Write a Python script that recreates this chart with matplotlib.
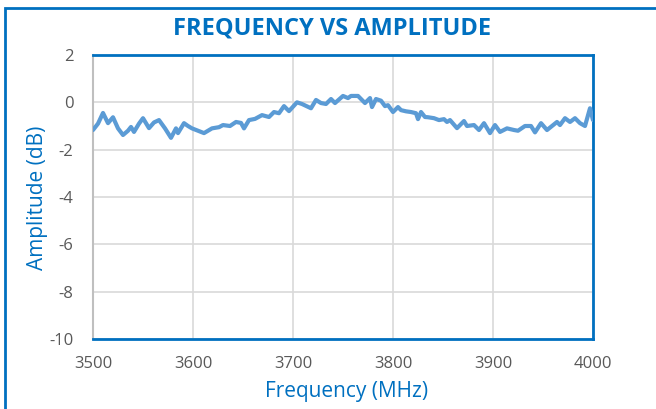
import matplotlib.pyplot as plt
from matplotlib.patches import Rectangle

plt.rcParams['axes.unicode_minus'] = False

# values (MHz, dB)
freq = [3500, 3505, 3510, 3515, 3520, 3525, 3530, 3535, 3538, 3541, 3546, 3550,
        3556, 3561, 3566, 3572, 3578, 3583, 3585, 3591, 3595, 3599, 3605, 3611,
        3619, 3626, 3630, 3637, 3643, 3648, 3651, 3656, 3662, 3669, 3676, 3681,
        3686, 3691, 3696, 3704, 3709, 3718, 3723, 3728, 3733, 3738, 3742, 3750,
        3755, 3758, 3765, 3772, 3777, 3779, 3783, 3788, 3792, 3795, 3800, 3805,
        3808, 3813, 3818, 3823, 3825, 3828, 3832, 3835, 3841, 3846, 3851, 3854,
        3857, 3864, 3871, 3874, 3881, 3886, 3891, 3897, 3902, 3907, 3914, 3921,
        3925, 3932, 3938, 3942, 3948, 3954, 3964, 3967, 3972, 3977, 3982, 3987,
        3992, 3997, 4000]
amp = [-1.17, -0.9, -0.45, -0.88, -0.63, -1.1, -1.38, -1.2, -1.04, -1.25, -0.9, -0.67,
       -1.09, -0.85, -0.75, -1.1, -1.5, -1.1, -1.3, -0.88, -1.0, -1.1, -1.2, -1.3,
       -1.1, -1.05, -0.96, -1.0, -0.83, -0.87, -1.1, -0.75, -0.7, -0.54, -0.62, -0.41,
       -0.46, -0.16, -0.37, 0.0, -0.07, -0.25, 0.1, -0.03, -0.07, 0.14, -0.03, 0.27,
       0.18, 0.27, 0.27, -0.03, 0.18, -0.2, 0.14, 0.07, -0.16, -0.12, -0.41, -0.2,
       -0.33, -0.38, -0.41, -0.46, -0.71, -0.41, -0.62, -0.63, -0.67, -0.75, -0.71, -0.83,
       -0.75, -1.09, -0.79, -1.0, -0.96, -1.17, -0.88, -1.3, -0.96, -1.25, -1.1, -1.17,
       -1.2, -1.0, -1.0, -1.27, -0.88, -1.17, -0.83, -0.96, -0.67, -0.83, -0.67, -0.88,
       -1.0, -0.25, -0.75]

xticks = [3500, 3600, 3700, 3800, 3900, 4000]
yticks = [2, 0, -2, -4, -6, -8, -10]

blue = '#0070C0'
W, H = 656, 409
fig = plt.figure(figsize=(W/100, H/100), dpi=100)
ax = fig.add_axes([93/W, 1-339/H, 500/W, 284/H])

ax.plot(freq, amp, color='#5B9BD5', lw=3, solid_capstyle='round',
        solid_joinstyle='round', zorder=3)
ax.set_xlim(3500, 4000)
ax.set_ylim(-10, 2)
ax.set_xticks(xticks)
ax.set_yticks(yticks)
ax.grid(True, color='#D9D9D9', lw=1.2)
ax.set_axisbelow(True)
ax.tick_params(length=0, labelsize=12, labelcolor='#595959')
ax.tick_params(axis='x', pad=12)
ax.tick_params(axis='y', pad=14)
for lab in ax.get_xticklabels() + ax.get_yticklabels():
    lab.set_family('Open Sans')

for s in ['top', 'right', 'bottom']:
    ax.spines[s].set_color(blue)
    ax.spines[s].set_linewidth(2)
ax.spines['left'].set_color('#BFBFBF')
ax.spines['left'].set_linewidth(1.5)

fig.text(332/W, 1-28.5/H, 'FREQUENCY VS AMPLITUDE', ha='center', va='center',
         color=blue, fontsize=17, fontweight='bold', family='Open Sans')
fig.text(347/W, 1-392/H, 'Frequency (MHz)', ha='center', va='center',
         color=blue, fontsize=15, family='Open Sans')
fig.text(37/W, 1-198/H, 'Amplitude (dB)', ha='center', va='center', rotation=90,
         color=blue, fontsize=15, family='Open Sans')

# outer chart border (runs off the right and bottom edges)
fig.patches.append(Rectangle((5/W, -0.1), 1.2, 1.1 - 8/H,
                             transform=fig.transFigure, fill=False,
                             edgecolor=blue, lw=2, zorder=0))

fig.savefig('out.png', dpi=100)
